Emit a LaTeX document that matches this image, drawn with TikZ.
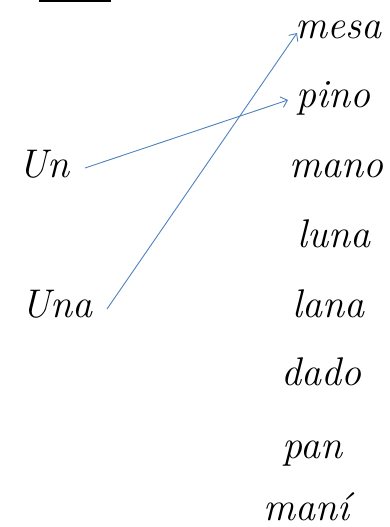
\documentclass[tikz,border=0pt]{standalone}
\usetikzlibrary{arrows.meta}
\begin{document}
\begin{tikzpicture}[x=1pt,y=-1pt,
  word/.style={anchor=base,inner sep=0pt,font=\fontsize{40}{46}\selectfont\itshape},
  arr/.style={-{Straight Barb[length=6pt,width=11pt]},draw={rgb,255:red,79;green,129;blue,189},line width=0.9pt}]
\useasboundingbox (0,0) rectangle (389,527);
\fill[black] (39,0) rectangle (111,2.5);
\node[word] (mesa) at (338,38) {mesa};
\node[word] (pino) at (333,107) {pino};
\node[word] (un) at (44,177) {Un};
\node[word] (mano) at (336,177) {mano};
\node[word] (luna) at (334,247) {luna};
\node[word] (una) at (57,317) {Una};
\node[word] (lana) at (328,317) {lana};
\node[word] (dado) at (321,385) {dado};
\node[word] (pan) at (312,458) {pan};
\node[word] (mani) at (306,520) {maní};
\coordinate (s1) at (85,168);
\coordinate (t1) at (288,100);
\coordinate (s2) at (107,309);
\coordinate (t2) at (297,33);
\draw[arr] (s1) -- (t1);
\draw[arr] (s2) -- (t2);
\end{tikzpicture}
\end{document}
